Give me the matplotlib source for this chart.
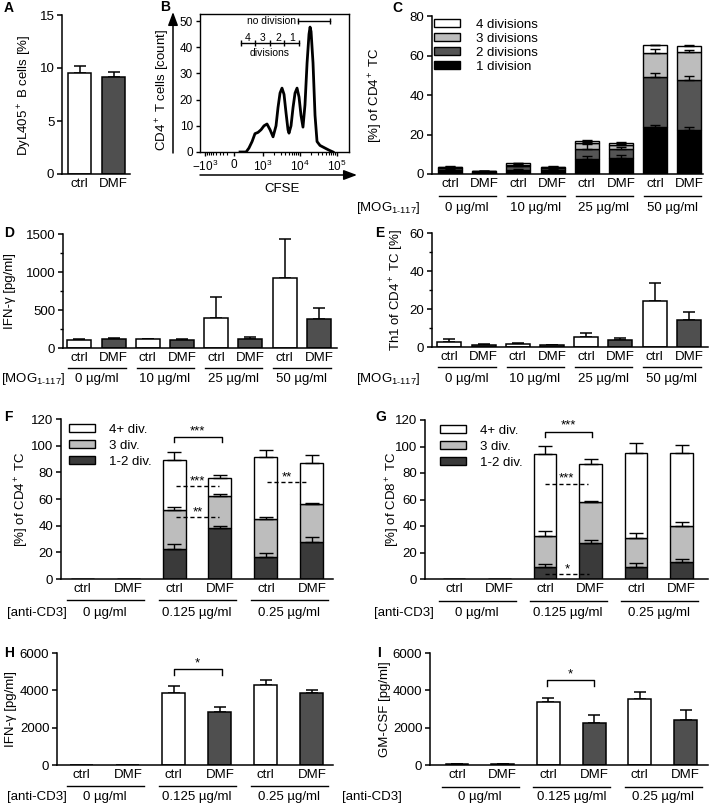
import numpy as np
import matplotlib
matplotlib.use('Agg')
import matplotlib.pyplot as plt
import matplotlib.ticker as mticker
from matplotlib.patches import Patch
from matplotlib.lines import Line2D
from matplotlib.transforms import blended_transform_factory

plt.rcParams['font.family'] = ['Liberation Sans', 'DejaVu Sans']
plt.rcParams['font.size'] = 9.5
plt.rcParams['mathtext.fontset'] = 'custom'
plt.rcParams['mathtext.rm'] = 'Liberation Sans'
plt.rcParams['mathtext.it'] = 'Liberation Sans:italic'
plt.rcParams['mathtext.bf'] = 'Liberation Sans:bold'

# ---------------- data ----------------
conditions = ['ctrl', 'DMF']
mog_doses = ['0 µg/ml', '10 µg/ml', '25 µg/ml', '50 µg/ml']
cd3_doses = ['0 µg/ml', '0.125 µg/ml', '0.25 µg/ml']

# A - DyL405+ B cells
a_mean = [9.5, 9.15]
a_err = [0.7, 0.5]

# B - CFSE dilution histogram
b_cfse = [170, 340, 420, 510, 610, 740, 890, 1070, 1290, 1560, 1880, 2260,
          2560, 2900, 3280, 3720, 4210, 4760, 5070, 5750, 6520, 7380, 8360,
          9460, 10700, 12100, 13700, 15600, 17600, 18800, 20000, 22600,
          25600, 29000, 34900, 47600, 61200, 78500]
b_count = [0, 0, 1.5, 4, 7, 7.5, 8.5, 10, 10.7, 8.5, 5.8, 10,
           17, 22.5, 24.4, 22, 15, 8.5, 7.2, 10, 17, 22.5, 24.4,
           21, 14, 9.5, 18, 34, 45, 47.7, 46, 34,
           14, 4, 2.5, 1.5, 0.7, 0]
b_xticks = [-1000, 0, 1000, 10000, 100000]
b_xticklabels = [r'$-10^3$', '0', r'$10^3$', r'$10^4$', r'$10^5$']

# C - proliferation after MOG (ctrl/DMF for 0, 10, 25, 50 µg/ml)
c_div1 = [2.0, 1.0, 2.2, 2.0, 7.5, 8.3, 24.0, 22.4]
c_div2 = [1.0, 0.4, 1.6, 1.0, 5.3, 4.5, 25.0, 25.2]
c_div3 = [0.4, 0.1, 1.0, 0.4, 2.7, 2.0, 12.5, 14.0]
c_div4 = [0.2, 0.05, 0.7, 0.2, 1.3, 1.0, 3.8, 3.4]
c_err1 = [0.4, 0.1, 0.5, 0.3, 1.7, 1.2, 0.9, 1.6]
c_err2 = [0.4, 0.1, 0.6, 0.3, 2.2, 1.0, 2.0, 2.0]
c_err3 = [0.3, 0.1, 0.5, 0.2, 0.8, 0.5, 1.8, 1.2]
c_err4 = [0.2, 0.1, 0.3, 0.2, 0.3, 0.3, 0.2, 0.4]
c_labels = ['4 divisions', '3 divisions', '2 divisions', '1 division']

# D - IFN-gamma after MOG
d_mean = [105, 125, 115, 110, 390, 125, 915, 385]
d_err = [15, 10, 3, 2, 280, 20, 525, 135]

# E - Th1 of CD4+ TC
e_mean = [2.8, 1.3, 1.8, 1.0, 5.2, 3.8, 24.2, 14.0]
e_err = [1.2, 0.4, 0.1, 0.1, 2.3, 1.2, 9.6, 4.5]

# F - CD4+ proliferation after anti-CD3
f_div12 = [0, 0, 22.3, 38.0, 16.3, 27.5]
f_div3 = [0, 0, 29.4, 24.3, 28.5, 29.0]
f_div4 = [0, 0, 37.6, 13.7, 46.5, 30.8]
f_err12 = [0, 0, 3.7, 2.0, 3.0, 3.8]
f_err3 = [0, 0, 2.1, 1.2, 2.0, 0.8]
f_err4 = [0, 0, 6.2, 2.0, 5.5, 5.7]

# G - CD8+ proliferation after anti-CD3
g_div12 = [0, 0, 8.8, 26.9, 8.8, 12.8]
g_div3 = [0, 0, 23.9, 31.4, 21.9, 27.4]
g_div4 = [0, 0, 61.6, 28.5, 64.6, 54.7]
g_err12 = [0, 0, 2.5, 2.5, 3.3, 2.3]
g_err3 = [0, 0, 3.8, 0.8, 3.8, 3.0]
g_err4 = [0, 0, 6.3, 3.8, 7.1, 6.0]
fg_labels = ['4+ div.', '3 div.', '1-2 div.']

# H - IFN-gamma after anti-CD3
h_mean = [0, 0, 3850, 2850, 4280, 3870]
h_err = [0, 0, 380, 280, 280, 150]

# I - GM-CSF after anti-CD3
i_mean = [60, 30, 3350, 2270, 3560, 2400]
i_err = [20, 10, 220, 430, 360, 530]

WHITE, LIGHT, DARK, BLACK = '#ffffff', '#bdbdbd', '#4f4f4f', '#000000'

W, H = 709, 806
fig = plt.figure(figsize=(W / 100, H / 100), dpi=100)


def fx(px):
    return px / W


def fy(py):
    return 1 - py / H


def make_ax(x0, x1, y0, y1):
    return fig.add_axes([fx(x0), fy(y1), fx(x1) - fx(x0), (y1 - y0) / H])


def style_bar_ax(ax, xlim, ylim, yticks, yminor=None, xlabels=None):
    ax.set_xlim(xlim)
    ax.set_ylim(ylim)
    ax.set_yticks(yticks)
    if yminor:
        ax.yaxis.set_minor_locator(mticker.MultipleLocator(yminor))
    for s in ['top', 'right']:
        ax.spines[s].set_visible(False)
    for s in ['left', 'bottom']:
        ax.spines[s].set_linewidth(1.1)
    ax.tick_params(axis='y', direction='out', length=3.5, width=1.1, pad=2)
    ax.tick_params(axis='y', which='minor', length=2.2, width=1)
    n = len(xlabels)
    ax.set_xticks(np.arange(n), xlabels)
    ax.tick_params(axis='x', length=0, pad=3)


def simple_bars(ax, means, errs, width):
    x = np.arange(len(means))
    colors = [WHITE if i % 2 == 0 else DARK for i in range(len(means))]
    ax.bar(x, means, width, color=colors, edgecolor='black', lw=1.1, zorder=2)
    m = np.array(means) > 0
    ax.errorbar(x[m], np.array(means)[m], yerr=[np.zeros(m.sum()), np.array(errs)[m]],
                fmt='none', ecolor='black', elinewidth=1.1, capsize=4, capthick=1.1, zorder=1)


def stacked_bars(ax, segs, errs, colors, width, capsize=4):
    n = len(segs[0])
    x = np.arange(n)
    bottom = np.zeros(n)
    for seg, err, col in zip(segs, errs, colors):
        seg = np.array(seg, dtype=float)
        ax.bar(x, seg, width, bottom=bottom, color=col, edgecolor='black', lw=1, zorder=2)
        top = bottom + seg
        m = seg > 0
        ax.errorbar(x[m], top[m], yerr=[np.zeros(m.sum()), np.array(err)[m]],
                    fmt='none', ecolor='black', elinewidth=1, capsize=capsize, capthick=1, zorder=3)
        bottom = top


def group_rows(ax, groups, line_y, text_y, label, label_x):
    tr = blended_transform_factory(ax.transData, fig.transFigure)
    for g, txt in enumerate(groups):
        fig.add_artist(Line2D([2 * g - 0.33, 2 * g + 1.35], [fy(line_y)] * 2,
                              transform=tr, color='black', lw=1))
        fig.text(0, fy(text_y), txt, transform=tr, ha='center', va='center') \
            .set_x(2 * g + 0.5)
    fig.text(fx(label_x), fy(text_y), label, ha='center', va='center')


def ylab(px, py, txt):
    fig.text(fx(px), fy(py), txt, rotation=90, ha='center', va='center')


def letter(px, py, txt):
    fig.text(fx(px), fy(py), txt, fontweight='bold', fontsize=10, ha='left', va='center')


def bracket(ax, x0, x1, y, drop, stars):
    ax.plot([x0, x0, x1, x1], [y - drop, y, y, y - drop], color='black', lw=1)
    ax.text((x0 + x1) / 2, y, stars, ha='center', va='bottom')


def dashed(ax, x0, x1, y, stars):
    ax.plot([x0, x1], [y, y], color='black', lw=1, ls=(0, (3, 2)), zorder=4)
    ax.text((x0 + x1) / 2, y - 1, stars, ha='center', va='bottom', zorder=4)


mog_label = r'[MOG$_{\mathregular{1‑117}}$]'

# ---------------- A ----------------
axA = make_ax(62, 130, 15, 174)
simple_bars(axA, a_mean, a_err, 0.68)
style_bar_ax(axA, (-0.515, 1.485), (0, 15), [0, 5, 10, 15], xlabels=conditions)
ylab(25, 95, r'DyL405$^+$ B cells [%]')
letter(4, 8, 'A')

# ---------------- B ----------------
axB = make_ax(200, 349, 14, 152)
axB.plot(b_cfse, b_count, color='black', lw=2, solid_joinstyle='round')
axB.set_xscale('symlog', linthresh=500, linscale=0.432)
axB.set_xlim(-1374, 212000)
axB.set_ylim(0, 52.7)
axB.set_yticks([0, 10, 20, 30, 40, 50])
axB.set_xticks(b_xticks, b_xticklabels)
axB.xaxis.set_minor_locator(mticker.FixedLocator(
    [-k * 100 for k in range(2, 10)] + [k * 10 ** e for e in (3, 4) for k in range(2, 10)]))
for s in axB.spines.values():
    s.set_linewidth(1)
axB.tick_params(axis='both', direction='out', length=3, width=1, pad=2, labelsize=8.5)
axB.tick_params(axis='x', which='minor', length=1.8, width=0.8)
axB.text(8000, 50, 'no division', ha='right', va='center', fontsize=7.5)
axB.plot([8900, 65000], [50, 50], color='black', lw=1, marker='|', markersize=5)
axB.plot([197, 612, 1555, 3716, 9460], [41.6] * 5, color='black', lw=1, marker='|', markersize=5)
for xp, t in zip([394, 1000, 2560, 6120], ['4', '3', '2', '1']):
    axB.text(xp, 43.6, t, ha='center', va='center', fontsize=7.5)
axB.text(1555, 37.8, 'divisions', ha='center', va='center', fontsize=7.5)
axB.annotate('', xy=(fx(173), fy(12)), xytext=(fx(173), fy(153)),
             xycoords='figure fraction', textcoords='figure fraction',
             arrowprops=dict(arrowstyle='-|>,head_length=0.8,head_width=0.3',
                             color='black', lw=1.1, shrinkA=0, shrinkB=0, mutation_scale=10))
axB.annotate('', xy=(fx(357), fy(175)), xytext=(fx(200), fy(175)),
             xycoords='figure fraction', textcoords='figure fraction',
             arrowprops=dict(arrowstyle='-|>,head_length=0.8,head_width=0.3',
                             color='black', lw=1.1, shrinkA=0, shrinkB=0, mutation_scale=10))
fig.text(fx(282), fy(189), 'CFSE', ha='center', va='center')
ylab(163, 90, r'CD4$^+$ T cells [count]')
letter(160, 7, 'B')

# ---------------- C ----------------
axC = make_ax(432, 703, 16, 174)
stacked_bars(axC, [c_div1, c_div2, c_div3, c_div4], [c_err1, c_err2, c_err3, c_err4],
             [BLACK, '#555555', LIGHT, WHITE], 0.7, capsize=3.5)
style_bar_ax(axC, (-0.53, 7.4), (0, 80), [0, 20, 40, 60, 80], xlabels=conditions * 4)
handles = [Patch(facecolor=c, edgecolor='black', lw=1) for c in [WHITE, LIGHT, '#555555', BLACK]]
axC.legend(handles, c_labels, loc='upper left', bbox_to_anchor=(fx(434), fy(19)),
           bbox_transform=fig.transFigure, frameon=False, handlelength=2.0, handleheight=0.55,
           labelspacing=0.15, handletextpad=1.2, borderpad=0, borderaxespad=0)
group_rows(axC, mog_doses, 196, 208, mog_label, 388)
ylab(376, 95, r'[%] of CD4$^+$ TC')
letter(392, 8, 'C')

# ---------------- D ----------------
axD = make_ax(63, 337, 234, 348)
simple_bars(axD, d_mean, d_err, 0.7)
style_bar_ax(axD, (-0.48, 7.53), (0, 1500), [0, 500, 1000, 1500], 250, xlabels=conditions * 4)
group_rows(axD, mog_doses, 368, 379, mog_label, 33)
ylab(10, 291, 'IFN-γ [pg/ml]')
letter(4, 233, 'D')

# ---------------- E ----------------
axE = make_ax(432, 708, 233, 347)
simple_bars(axE, e_mean, e_err, 0.7)
style_bar_ax(axE, (-0.51, 7.56), (0, 60), [0, 20, 40, 60], 10, xlabels=conditions * 4)
group_rows(axE, mog_doses, 367, 379, mog_label, 388)
ylab(397, 290, r'Th1 of CD4$^+$ TC [%]')
letter(375, 233, 'E')

# ---------------- F ----------------
axF = make_ax(61, 333, 419, 579)
stacked_bars(axF, [f_div12, f_div3, f_div4], [f_err12, f_err3, f_err4],
             ['#3a3a3a', LIGHT, WHITE], 0.5, capsize=5)
style_bar_ax(axF, (-0.457, 5.457), (0, 120), np.arange(0, 121, 20), xlabels=conditions * 3)
handles = [Patch(facecolor=c, edgecolor='black', lw=1) for c in [WHITE, LIGHT, '#3a3a3a']]
axF.legend(handles, fg_labels, loc='upper left', bbox_to_anchor=(fx(69), fy(424)),
           bbox_transform=fig.transFigure, frameon=False, handlelength=2.0, handleheight=0.55,
           labelspacing=0.3, handletextpad=1.05, borderpad=0, borderaxespad=0)
bracket(axF, 2.0, 3.04, 106.5, 4, '***')
dashed(axF, 2.04, 2.98, 69.8, '***')
dashed(axF, 2.04, 2.98, 46.5, '**')
dashed(axF, 4.02, 4.9, 72.8, '**')
group_rows(axF, cd3_doses, 600, 613, '[anti-CD3]', 37)
ylab(22, 499, r'[%] of CD4$^+$ TC')
letter(4, 417, 'F')

# ---------------- G ----------------
axG = make_ax(425, 708, 420, 579)
stacked_bars(axG, [g_div12, g_div3, g_div4], [g_err12, g_err3, g_err4],
             ['#3a3a3a', LIGHT, WHITE], 0.5, capsize=5)
style_bar_ax(axG, (-0.64, 5.58), (0, 120), np.arange(0, 121, 20), xlabels=conditions * 3)
handles = [Patch(facecolor=c, edgecolor='black', lw=1) for c in [WHITE, LIGHT, '#3a3a3a']]
axG.legend(handles, fg_labels, loc='upper left', bbox_to_anchor=(fx(440), fy(425)),
           bbox_transform=fig.transFigure, frameon=False, handlelength=2.0, handleheight=0.55,
           labelspacing=0.3, handletextpad=1.05, borderpad=0, borderaxespad=0)
bracket(axG, 2.0, 3.03, 111, 4, '***')
dashed(axG, 2.0, 2.95, 72, '***')
dashed(axG, 2.0, 2.97, 4, '*')
group_rows(axG, cd3_doses, 601, 613, '[anti-CD3]', 404)
ylab(393, 499, r'[%] of CD8$^+$ TC')
letter(375, 417, 'G')

# ---------------- H ----------------
axH = make_ax(57, 333, 653, 765)
simple_bars(axH, h_mean, h_err, 0.5)
style_bar_ax(axH, (-0.54, 5.46), (0, 6000), [0, 2000, 4000, 6000], xlabels=conditions * 3)
bracket(axH, 2.0, 3.04, 5140, 320, '*')
group_rows(axH, cd3_doses, 786, 797, '[anti-CD3]', 37)
ylab(11, 709, 'IFN-γ [pg/ml]')
letter(4, 653, 'H')

# ---------------- I ----------------
axI = make_ax(430, 708, 653, 765)
simple_bars(axI, i_mean, i_err, 0.5)
style_bar_ax(axI, (-0.59, 5.49), (0, 6000), [0, 2000, 4000, 6000], xlabels=conditions * 3)
bracket(axI, 1.97, 3.0, 4550, 320, '*')
group_rows(axI, cd3_doses, 787, 797, '[anti-CD3]', 372)
ylab(385, 709, 'GM-CSF [pg/ml]')
letter(377, 653, 'I')

fig.savefig('out.png', dpi=100)
